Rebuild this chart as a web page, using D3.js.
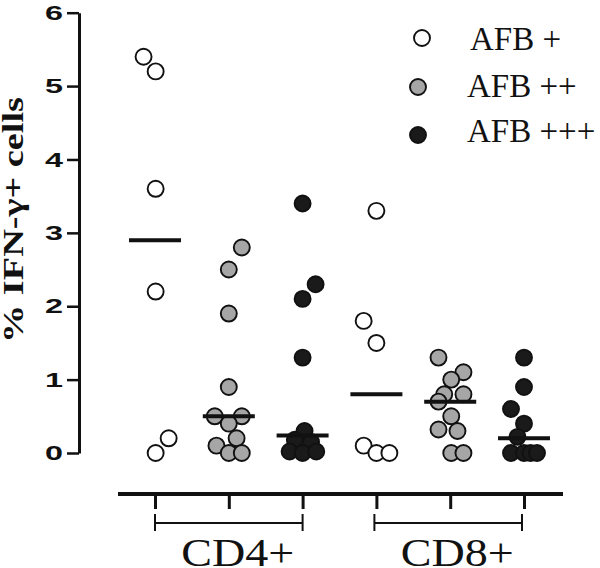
<!DOCTYPE html>
<html><head><meta charset="utf-8">
<script src="https://cdn.jsdelivr.net/npm/d3@7"></script>
<style>html,body{margin:0;padding:0;background:#fff}svg{display:block}</style>
</head><body>
<script>
// ---- data ----
const groups = ["CD4 AFB+", "CD4 AFB++", "CD4 AFB+++", "CD8 AFB+", "CD8 AFB++", "CD8 AFB+++"];
const groupSeries = ["AFB +", "AFB ++", "AFB +++", "AFB +", "AFB ++", "AFB +++"];
const seriesNames = ["AFB +", "AFB ++", "AFB +++"];
const seriesFill = ["#ffffff", "#a6a6a6", "#1a1a1a"];
const cd4AfbPlus    = [5.4, 5.2, 3.6, 2.2, 0.2, 0];
const cd4AfbPlusJit = [-0.88, 0.05, 0.05, 0.05, 1.05, 0.05];
const cd4AfbPP      = [2.8, 2.5, 1.9, 0.9, 0.5, 0.5, 0.4, 0.2, 0.1, 0, 0];
const cd4AfbPPJit   = [1.0, 0, 0, 0, -1.08, 1.0, 0, 0.6, -0.95, 0, 1.0];
const cd4AfbPPP     = [3.4, 2.3, 2.1, 1.3, 0.3, 0.18, 0.15, 0.02, 0, 0.02];
const cd4AfbPPPJit  = [0, 1.0, 0, 0, 0.15, -0.6, 0.65, -1.0, 0, 1.05];
const cd8AfbPlus    = [3.3, 1.8, 1.5, 0.1, 0, 0];
const cd8AfbPlusJit = [0, -0.98, 0, -0.98, 0, 1.0];
const cd8AfbPP      = [1.3, 1.1, 1.0, 0.8, 0.8, 0.7, 0.5, 0.32, 0.3, 0, 0];
const cd8AfbPPJit   = [-0.9, 1.02, 0.08, -0.46, 1.02, -0.9, 0.08, -0.9, 0.56, 0.08, 1.02];
const cd8AfbPPP     = [1.3, 0.9, 0.6, 0.4, 0.22, 0, 0, 0, 0];
const cd8AfbPPPJit  = [0, 0, -1.0, 0, -0.5, -1.0, 0, 0.5, 1.0];
const medians = [2.9, 0.5, 0.24, 0.8, 0.7, 0.2];
const yTicks = [0, 1, 2, 3, 4, 5, 6];
const cellTypes = ["CD4+", "CD8+"];
const yLabel = "% IFN-\u03b3+ cells";

const values = [cd4AfbPlus, cd4AfbPP, cd4AfbPPP, cd8AfbPlus, cd8AfbPP, cd8AfbPPP];
const jitters = [cd4AfbPlusJit, cd4AfbPPJit, cd4AfbPPPJit, cd8AfbPlusJit, cd8AfbPPJit, cd8AfbPPPJit];

// ---- layout ----
const W = 600, H = 568;
const svg = d3.select("body").append("svg").attr("width", W).attr("height", H);

const y = d3.scaleLinear().domain([0, 6]).range([453, 12.7]);
const x = d3.scalePoint().domain(groups).range([155, 524]);
const jit = d3.scaleLinear().domain([0, 1]).range([0, 13]);
const fillOf = d3.scaleOrdinal().domain(seriesNames).range(seriesFill);

// y axis
const yAxis = svg.append("g").attr("transform", "translate(79,0)")
  .call(d3.axisLeft(y).tickValues(yTicks).tickFormat(d3.format("d")).tickSize(12).tickSizeOuter(0).tickPadding(4));
yAxis.select(".domain").attr("stroke", "#111").attr("stroke-width", 3);
yAxis.selectAll(".tick line").attr("stroke", "#111").attr("stroke-width", 2.5);
yAxis.selectAll(".tick text")
  .attr("fill", "#111")
  .style("font-family", "'Liberation Sans', Arial, sans-serif")
  .style("font-weight", "bold")
  .style("font-size", "21px")
  .attr("textLength", 18).attr("lengthAdjust", "spacingAndGlyphs");

// y label
svg.append("text")
  .attr("transform", "translate(23,220) rotate(-90)")
  .attr("text-anchor", "middle")
  .attr("textLength", 246).attr("lengthAdjust", "spacingAndGlyphs")
  .style("font-family", "'Liberation Serif', 'Times New Roman', serif")
  .style("font-weight", "bold").style("font-size", "30px").attr("fill", "#111")
  .text(yLabel);

// x axis
const xAxis = svg.append("g").attr("transform", "translate(0,494)")
  .call(d3.axisBottom(x).tickSize(15).tickSizeOuter(0).tickFormat(""));
xAxis.select(".domain").remove();
xAxis.append("line").attr("x1", 118).attr("x2", 563).attr("y1", 0).attr("y2", 0)
  .attr("stroke", "#111").attr("stroke-width", 4);
xAxis.selectAll(".tick line").attr("stroke", "#111").attr("stroke-width", 3);

// brackets
cellTypes.forEach((ct, i) => {
  const x1 = x(groups[i * 3]) - (i === 1 ? 2 : 0), x2 = x(groups[i * 3 + 2]) - (i === 1 ? 2 : 0);
  const g = svg.append("g").attr("stroke", "#111").attr("stroke-width", 2);
  g.append("line").attr("x1", x1).attr("x2", x2).attr("y1", 523).attr("y2", 523);
  g.append("line").attr("x1", x1).attr("x2", x1).attr("y1", 514).attr("y2", 531);
  g.append("line").attr("x1", x2).attr("x2", x2).attr("y1", 514).attr("y2", 531);
  svg.append("text")
    .attr("x", (x1 + x2) / 2 + 9).attr("y", 565.5)
    .attr("text-anchor", "middle")
    .attr("textLength", 113).attr("lengthAdjust", "spacingAndGlyphs")
    .style("font-family", "'Liberation Serif', 'Times New Roman', serif")
    .style("font-size", "40px").attr("fill", "#111")
    .text(ct);
});

// points
groups.forEach((g, gi) => {
  const pts = values[gi].map((v, i) => ({ v, j: jitters[gi][i] }));
  svg.append("g").selectAll("circle").data(pts).join("circle")
    .attr("cx", d => x(g) + jit(d.j))
    .attr("cy", d => y(d.v))
    .attr("r", 8)
    .attr("fill", fillOf(groupSeries[gi]))
    .attr("stroke", "#111").attr("stroke-width", 1.9);
});

// medians
svg.append("g").selectAll("line").data(groups).join("line")
  .attr("x1", (g) => x(g) - 26).attr("x2", (g) => x(g) + 26)
  .attr("y1", (g, i) => y(medians[i])).attr("y2", (g, i) => y(medians[i]))
  .attr("stroke", "#111").attr("stroke-width", 4);

// legend
const legPos = [[422, 38, 470, 50], [418, 87, 467, 97], [418, 135, 467, 142]];
seriesNames.forEach((s, i) => {
  const [cx, cy, tx, ty] = legPos[i];
  svg.append("circle").attr("cx", cx).attr("cy", cy).attr("r", 8)
    .attr("fill", fillOf(s)).attr("stroke", "#111").attr("stroke-width", 1.9);
  svg.append("text").attr("x", tx).attr("y", ty)
    .style("font-family", "'Liberation Serif', 'Times New Roman', serif")
    .style("font-size", "33px").attr("fill", "#111")
    .text(s);
});
</script>
</body></html>
